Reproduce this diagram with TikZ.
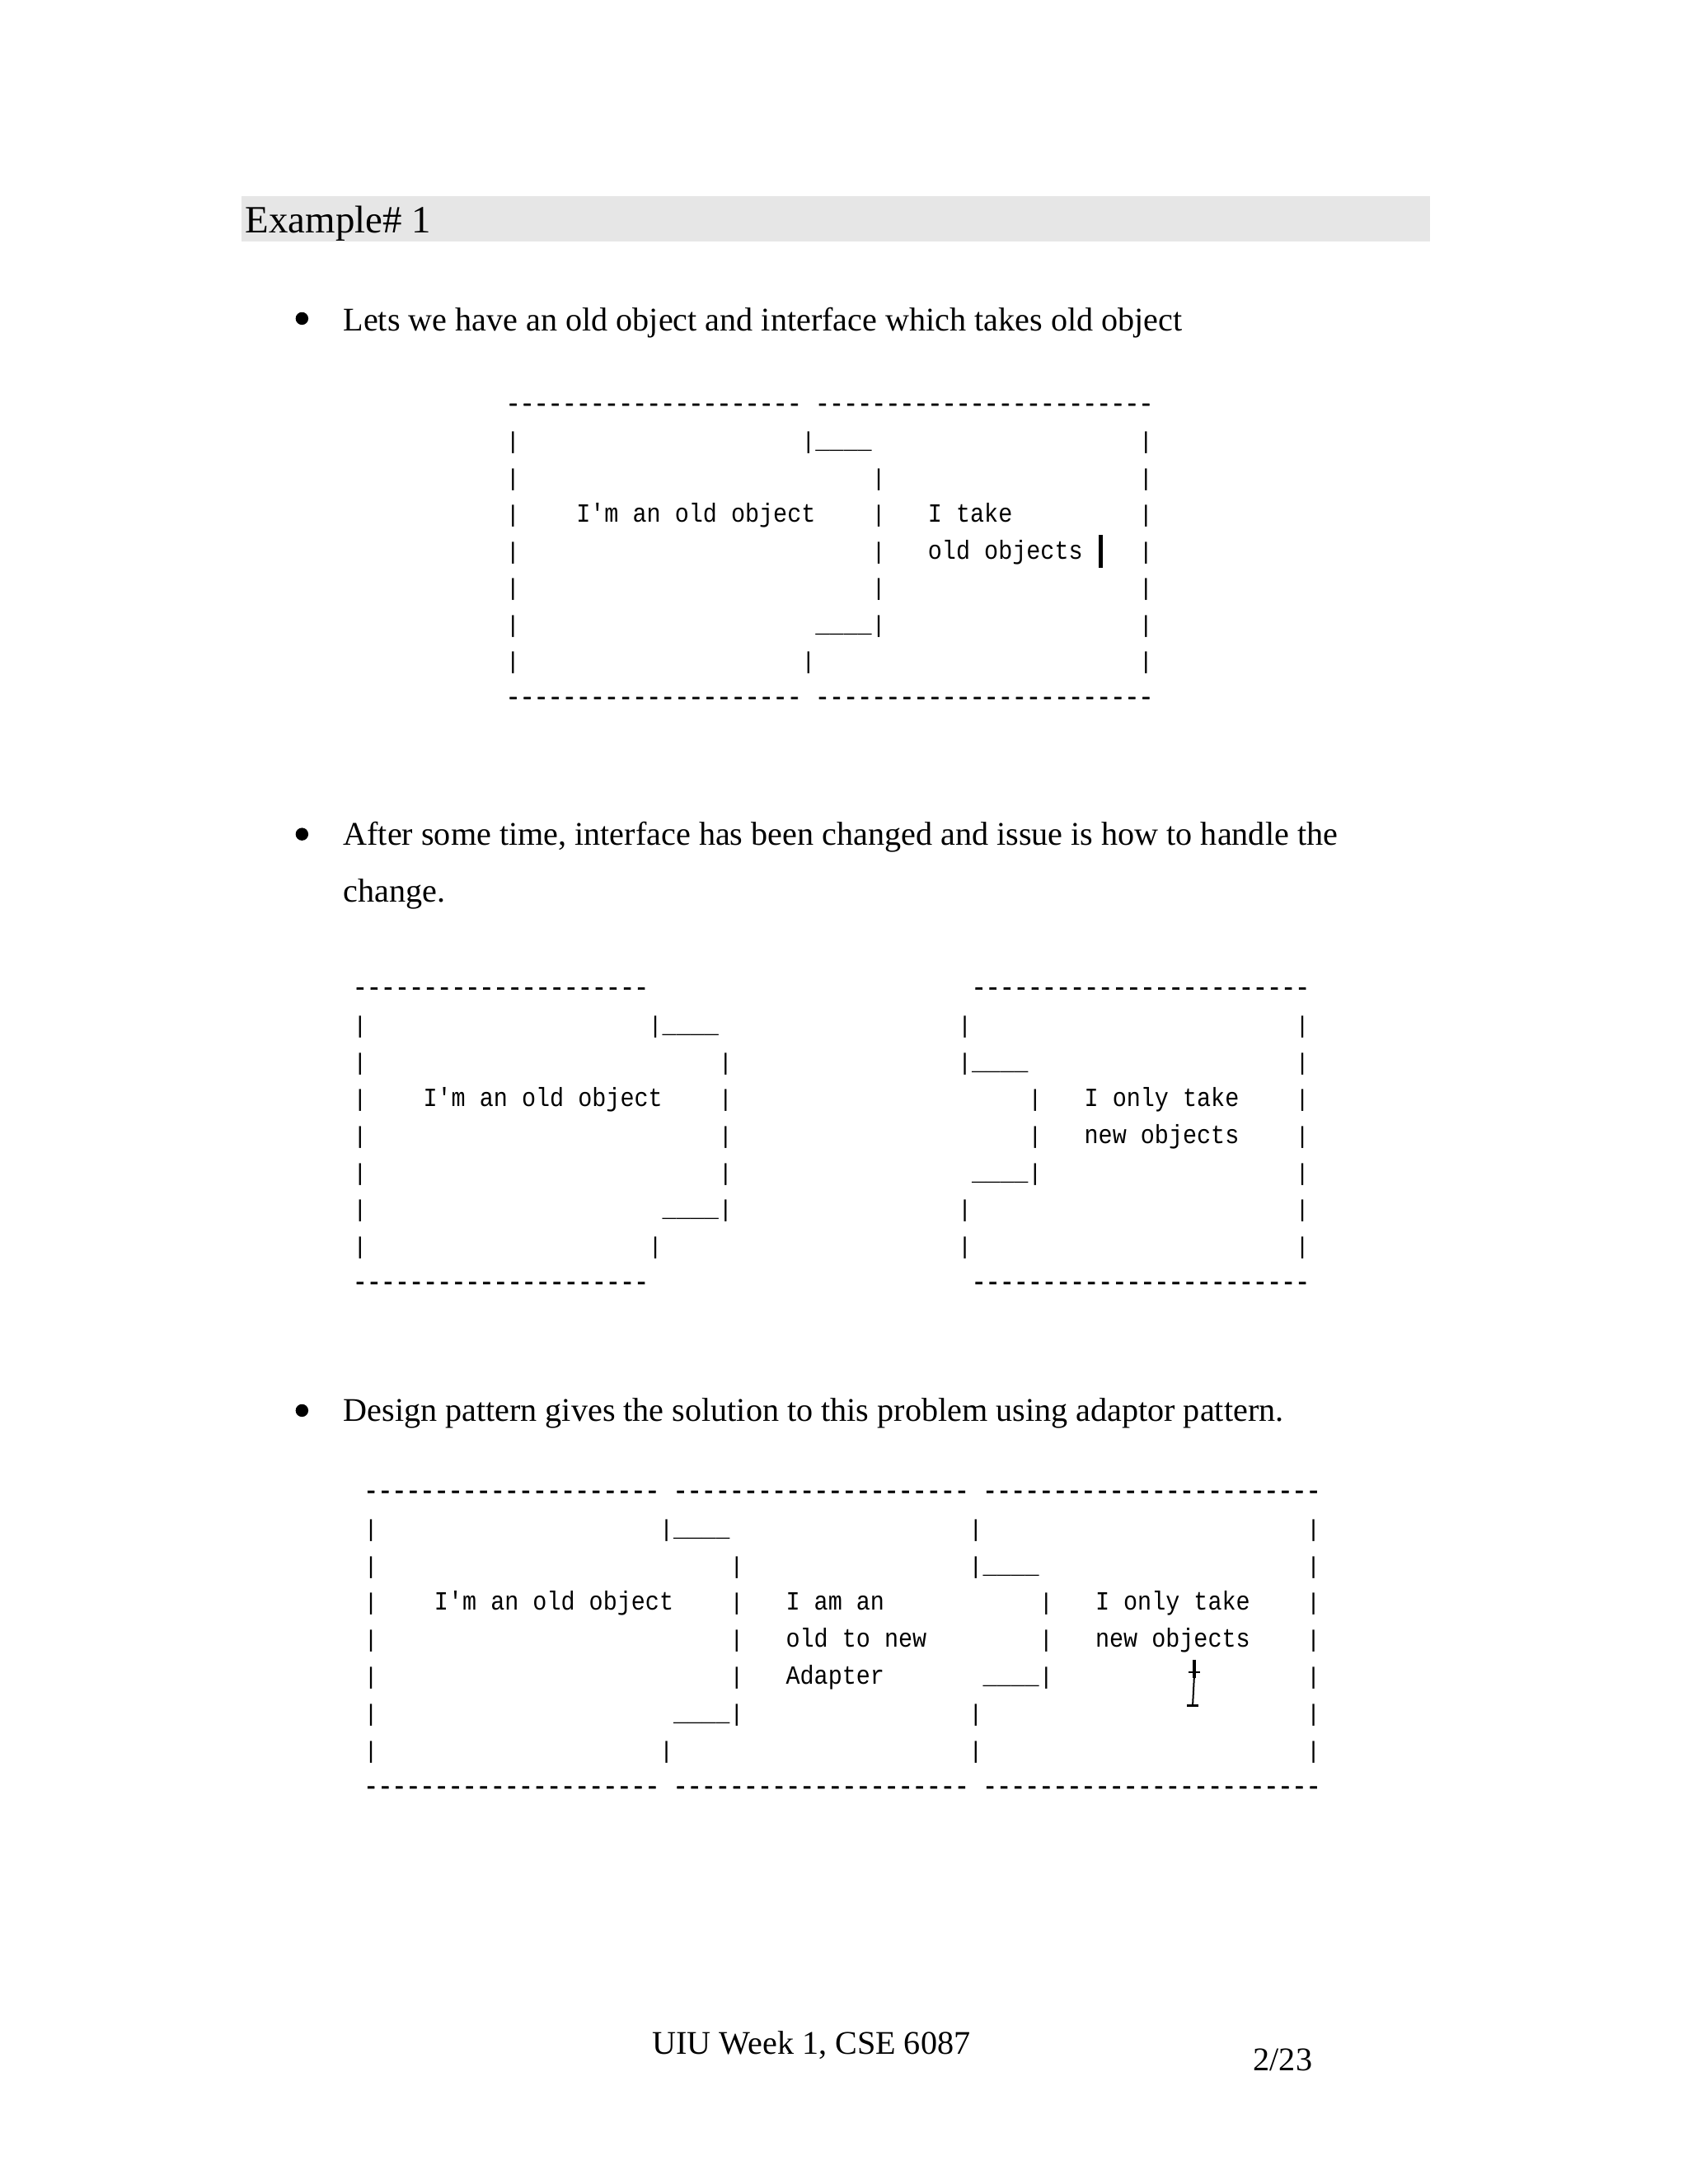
\documentclass[tikz,border=0pt]{standalone}
\usepackage{fontspec}
\usepackage{graphicx}
\setmainfont{Liberation Serif}
\setmonofont{Liberation Mono}
\definecolor{bandgray}{RGB}{230,230,230}
\tikzset{
  asc/.style={anchor=base west, inner sep=0pt, outer sep=0pt, font=\ttfamily\fontsize{8.5}{10}\selectfont},
  ascdash/.style={asc, font=\ttfamily\fontsize{8.5}{10}\selectfont\addfontfeature{FakeBold=2.5}},
  bodytext/.style={anchor=base west, inner sep=0pt, outer sep=0pt, font=\fontsize{12}{14}\selectfont},
  headtext/.style={anchor=base west, inner sep=0pt, outer sep=0pt, font=\fontsize{14}{16}\selectfont},
  bulletdot/.style={circle, fill=black, inner sep=0pt, minimum size=4.6pt},
  cursorbar/.style={line width=1.5pt}
}
\newcommand\ascc[4]{\node[asc] (#1) at ({\axo+#2*10.2},{\ayo+#3*\ayp+6}) {#4};}
\newcommand\ascw[4]{\node[asc] (#1) at ({\axo+#2*10.2},{\ayo+#3*\ayp+6}) {\scalebox{1}[1.12]{#4}};}
\newcommand\ascd[4]{\node[ascdash] (#1) at ({\axo+#2*10.2},{\ayo+#3*\ayp+5}) {#4};}
\begin{document}
\begin{tikzpicture}[x=0.5pt,y=-0.5pt]
\useasboundingbox (0,0) rectangle (1224,1584);
% heading band
\fill[bandgray] (175,142) rectangle (1037,175);
\node[headtext] (head) at (178,169) {Example\# 1};
% bullet 1
\node[bulletdot] (b1) at (219,231) {};
\node[bodytext] (t1) at (249,240) {Lets we have an old object and interface which takes old object};
% diagram 1
\def\axo{367}\def\ayo{293}\def\ayp{26.6}
\ascd{a0a}{0}{0}{---------------------}\ascd{a0b}{22}{0}{------------------------}
\ascc{a1a}{0}{1}{|}\ascc{a1b}{21}{1}{|\_\_\_\_}\ascc{a1c}{45}{1}{|}
\ascc{a2a}{0}{2}{|}\ascc{a2b}{26}{2}{|}\ascc{a2c}{45}{2}{|}
\ascc{a3a}{0}{3}{|}\ascw{a3b}{5}{3}{I'm an old object}\ascc{a3c}{26}{3}{|}\ascw{a3d}{30}{3}{I take}\ascc{a3e}{45}{3}{|}
\ascc{a4a}{0}{4}{|}\ascc{a4b}{26}{4}{|}\ascw{a4c}{30}{4}{old objects}\ascc{a4d}{45}{4}{|}
\ascc{a5a}{0}{5}{|}\ascc{a5b}{26}{5}{|}\ascc{a5c}{45}{5}{|}
\ascc{a6a}{0}{6}{|}\ascc{a6b}{22}{6}{\_\_\_\_|}\ascc{a6c}{45}{6}{|}
\ascc{a7a}{0}{7}{|}\ascc{a7b}{21}{7}{|}\ascc{a7c}{45}{7}{|}
\ascd{a8a}{0}{8}{---------------------}\ascd{a8b}{22}{8}{------------------------}
\draw[cursorbar] (798,388) -- (798,412);
% bullet 2
\node[bulletdot] (b2) at (219,605) {};
\node[bodytext] (t2) at (249,613) {After some time, interface has been changed and issue is how to handle the};
\node[bodytext] (t2b) at (249,654) {change.};
% diagram 2
\def\axo{256}\def\ayo{716.5}\def\ayp{26.7}
\ascd{b0a}{0}{0}{---------------------}\ascd{b0b}{44}{0}{------------------------}
\ascc{b1a}{0}{1}{|}\ascc{b1b}{21}{1}{|\_\_\_\_}\ascc{b1c}{43}{1}{|}\ascc{b1d}{67}{1}{|}
\ascc{b2a}{0}{2}{|}\ascc{b2b}{26}{2}{|}\ascc{b2c}{43}{2}{|\_\_\_\_}\ascc{b2d}{67}{2}{|}
\ascc{b3a}{0}{3}{|}\ascw{b3b}{5}{3}{I'm an old object}\ascc{b3c}{26}{3}{|}\ascc{b3d}{48}{3}{|}\ascw{b3e}{52}{3}{I only take}\ascc{b3f}{67}{3}{|}
\ascc{b4a}{0}{4}{|}\ascc{b4b}{26}{4}{|}\ascc{b4c}{48}{4}{|}\ascw{b4d}{52}{4}{new objects}\ascc{b4e}{67}{4}{|}
\ascc{b5a}{0}{5}{|}\ascc{b5b}{26}{5}{|}\ascc{b5c}{44}{5}{\_\_\_\_|}\ascc{b5d}{67}{5}{|}
\ascc{b6a}{0}{6}{|}\ascc{b6b}{22}{6}{\_\_\_\_|}\ascc{b6c}{43}{6}{|}\ascc{b6d}{67}{6}{|}
\ascc{b7a}{0}{7}{|}\ascc{b7b}{21}{7}{|}\ascc{b7c}{43}{7}{|}\ascc{b7d}{67}{7}{|}
\ascd{b8a}{0}{8}{---------------------}\ascd{b8b}{44}{8}{------------------------}
% bullet 3
\node[bulletdot] (b3) at (219,1023) {};
\node[bodytext] (t3) at (249,1031) {Design pattern gives the solution to this problem using adaptor pattern.};
% diagram 3
\def\axo{264}\def\ayo{1081.5}\def\ayp{26.8}
\ascd{c0a}{0}{0}{---------------------}\ascd{c0b}{22}{0}{---------------------}\ascd{c0c}{44}{0}{------------------------}
\ascc{c1a}{0}{1}{|}\ascc{c1b}{21}{1}{|\_\_\_\_}\ascc{c1c}{43}{1}{|}\ascc{c1d}{67}{1}{|}
\ascc{c2a}{0}{2}{|}\ascc{c2b}{26}{2}{|}\ascc{c2c}{43}{2}{|\_\_\_\_}\ascc{c2d}{67}{2}{|}
\ascc{c3a}{0}{3}{|}\ascw{c3b}{5}{3}{I'm an old object}\ascc{c3c}{26}{3}{|}\ascw{c3d}{30}{3}{I am an}\ascc{c3e}{48}{3}{|}\ascw{c3f}{52}{3}{I only take}\ascc{c3g}{67}{3}{|}
\ascc{c4a}{0}{4}{|}\ascc{c4b}{26}{4}{|}\ascw{c4c}{30}{4}{old to new}\ascc{c4d}{48}{4}{|}\ascw{c4e}{52}{4}{new objects}\ascc{c4f}{67}{4}{|}
\ascc{c5a}{0}{5}{|}\ascc{c5b}{26}{5}{|}\ascw{c5c}{30}{5}{Adapter}\ascc{c5d}{44}{5}{\_\_\_\_|}\ascc{c5e}{67}{5}{|}
\ascc{c6a}{0}{6}{|}\ascc{c6b}{22}{6}{\_\_\_\_|}\ascc{c6c}{43}{6}{|}\ascc{c6d}{67}{6}{|}
\ascc{c7a}{0}{7}{|}\ascc{c7b}{21}{7}{|}\ascc{c7c}{43}{7}{|}\ascc{c7d}{67}{7}{|}
\ascd{c8a}{0}{8}{---------------------}\ascd{c8b}{22}{8}{---------------------}\ascd{c8c}{44}{8}{------------------------}
% I-beam cursor
\draw[line width=1.2pt] (866,1204) -- (866,1217);
\draw[line width=0.6pt] (862,1213) -- (870,1213);
\draw[line width=0.6pt] (866,1217) -- (865,1236);
\draw[line width=0.6pt] (861,1237) -- (869,1237);
% footer
\node[bodytext] (foot) at (473,1490) {UIU Week 1, CSE 6087};
\node[bodytext] (page) at (909,1502) {2/23};
\end{tikzpicture}
\end{document}
